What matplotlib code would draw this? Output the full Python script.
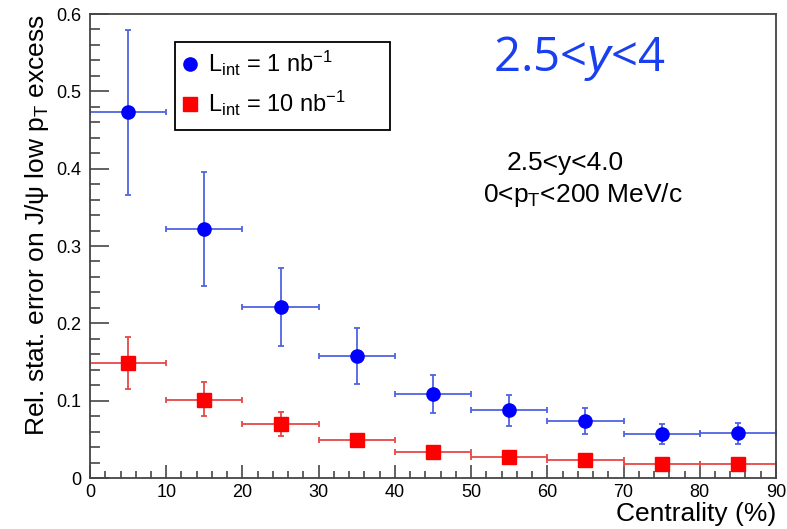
import numpy as np
import matplotlib.pyplot as plt
from matplotlib.lines import Line2D
from matplotlib.patches import Rectangle
from matplotlib.ticker import MultipleLocator

plt.rcParams['font.family'] = ['Liberation Sans', 'DejaVu Sans']
plt.rcParams['mathtext.fontset'] = 'custom'
plt.rcParams['mathtext.rm'] = 'Liberation Sans'
plt.rcParams['mathtext.it'] = 'Liberation Sans:italic'

# centrality bins (%)
cent = [5, 15, 25, 35, 45, 55, 65, 75, 85]
cent_halfwidth = [5] * 9

# L_int = 1 nb^-1
err_1nb = [0.473, 0.322, 0.221, 0.158, 0.109, 0.088, 0.074, 0.057, 0.058]
err_1nb_lo = [0.107, 0.074, 0.050, 0.036, 0.025, 0.021, 0.017, 0.013, 0.014]
err_1nb_hi = [0.106, 0.074, 0.051, 0.036, 0.024, 0.019, 0.017, 0.013, 0.013]

# L_int = 10 nb^-1
err_10nb = [0.149, 0.101, 0.070, 0.049, 0.034, 0.027, 0.023, 0.018, 0.018]
err_10nb_lo = [0.034, 0.021, 0.016, 0.008, 0.004, 0.003, 0.003, 0.002, 0.002]
err_10nb_hi = [0.033, 0.023, 0.015, 0.008, 0.004, 0.003, 0.003, 0.002, 0.002]

fig = plt.figure(figsize=(7.87, 5.29), dpi=100)
ax = fig.add_axes([0.1144, 0.0964, 0.8716, 0.8771])

ax.errorbar(cent, err_1nb, xerr=cent_halfwidth, yerr=[err_1nb_lo, err_1nb_hi],
            fmt='o', color='#0000ff', ecolor='#5063e0', elinewidth=1.3,
            capsize=2.5, capthick=1.3, markersize=9.5)
ax.errorbar(cent, err_10nb, xerr=cent_halfwidth, yerr=[err_10nb_lo, err_10nb_hi],
            fmt='s', color='#ff0000', ecolor='#e64848', elinewidth=1.3,
            capsize=2.5, capthick=1.3, markersize=9.5)

ax.set_xlim(0, 90)
ax.set_ylim(0, 0.6)
ax.xaxis.set_major_locator(MultipleLocator(10))
ax.xaxis.set_minor_locator(MultipleLocator(2))
ax.yaxis.set_major_locator(MultipleLocator(0.1))
ax.yaxis.set_minor_locator(MultipleLocator(0.02))
ax.tick_params(which='both', direction='in', top=False, right=False,
               labelsize=13, width=1.3, color='#555555')
ax.tick_params(axis='x', which='major', length=9.5, pad=4)
ax.tick_params(axis='x', which='minor', length=5)
ax.tick_params(axis='y', which='major', length=14, pad=6)
ax.tick_params(axis='y', which='minor', length=7)
ax.set_yticks(np.arange(0, 0.61, 0.1))
ax.set_yticklabels(['0', '0.1', '0.2', '0.3', '0.4', '0.5', '0.6'])
for s in ax.spines.values():
    s.set_linewidth(1.3)
    s.set_color('#444444')

ax.set_xlabel('Centrality (%)', fontsize=19, ha='right')
ax.xaxis.set_label_coords(1.0, -0.052)
ax.set_ylabel(r'Rel. stat. error on J/ψ low p$_{\mathregular{T}}$ excess',
              fontsize=19, ha='right')
ax.yaxis.set_label_coords(-0.057, 1.0)

# legend with marker-only entries inside a plain box
handles = [
    Line2D([], [], ls='none', marker='o', color='#0000ff', markersize=9.5),
    Line2D([], [], ls='none', marker='s', color='#ff0000', markersize=9.5),
]
labels = [r'L$_{\mathregular{int}}$ = 1 nb$^{\mathregular{-1}}$',
          r'L$_{\mathregular{int}}$ = 10 nb$^{\mathregular{-1}}$']
ax.add_patch(Rectangle((0.124, 0.750), 0.313, 0.190, transform=ax.transAxes,
                       facecolor='white', edgecolor='black', lw=1.3, zorder=4))
leg = ax.legend(handles, labels, loc='center left', bbox_to_anchor=(0.132, 0.85),
                fontsize=17, frameon=False, handlelength=0.8, handletextpad=0.35,
                borderpad=0, labelspacing=0.45, borderaxespad=0)
leg.set_zorder(5)

ax.text(0.713, 0.905, r'2.5<$y$<4', transform=ax.transAxes, color='#1a3ff0',
        fontsize=34, ha='center', va='center', family=['Open Sans', 'DejaVu Sans'])
ax.text(0.608, 0.664, '2.5<y<4.0', transform=ax.transAxes, fontsize=19,
        ha='left', va='baseline')
ax.text(0.573, 0.594, r'0<p$_{\mathregular{T}}$<200 MeV/c', transform=ax.transAxes,
        fontsize=19, ha='left', va='baseline')

fig.savefig('out.png', dpi=100)
